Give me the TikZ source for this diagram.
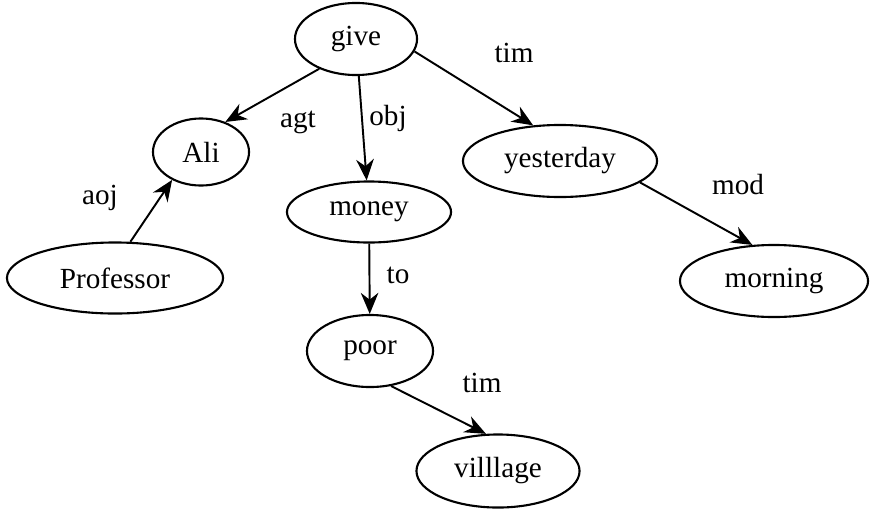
\documentclass[tikz,border=0pt]{standalone}
\usepackage{fontspec}
\setmainfont{Liberation Serif}
\usetikzlibrary{shapes.geometric,arrows.meta}

\tikzset{
  word/.style={draw, ellipse, line width=0.6pt, inner sep=0pt},
  rel/.style={-{Stealth[length=6pt,width=5pt]}, line width=0.55pt},
  lbl/.style={inner sep=0pt}
}

\begin{document}
\begin{tikzpicture}[x=0.01cm, y=-0.01cm, font=\fontsize{8.3}{10}\selectfont]
\useasboundingbox (0,0) rectangle (871,509);
% words
\node [word, minimum width=1.22cm, minimum height=0.72cm] (give) at (356,39) {give};
\node [word, minimum width=0.96cm, minimum height=0.67cm] (Ali) at (201,152) {Ali};
\node [word, minimum width=2.16cm, minimum height=0.71cm] (Professor) at (115,278) {Professor};
\node [word, minimum width=1.64cm, minimum height=0.61cm] (money) at (369,212) {money};
\node [word, minimum width=1.26cm, minimum height=0.72cm] (poor) at (370,351) {poor};
\node [word, minimum width=1.63cm, minimum height=0.73cm] (villlage) at (498,471) {villlage};
\node [word, minimum width=1.94cm, minimum height=0.72cm] (yesterday) at (560,161) {yesterday};
\node [word, minimum width=1.88cm, minimum height=0.72cm] (morning) at (774,281) {morning};
% relations
\draw [rel] (give.219) -- (Ali.51);
\draw [rel] (give) -- (money);
\draw [rel] (give.-12) -- (yesterday.127);
\draw [rel] (Professor.67) -- (Ali.224);
\draw [rel] (money) -- (poor);
\draw [rel] (poor.-59) -- (villlage.108);
\draw [rel] (yesterday.-15) -- (morning.121);
% labels
\node [lbl] (agt) at (298,122) {agt};
\node [lbl] (obj) at (388,118) {obj};
\node [lbl] (timtop) at (514,53) {tim};
\node [lbl] (aoj) at (100,198) {aoj};
\node [lbl] (to) at (398,275) {to};
\node [lbl] (timlow) at (482,383) {tim};
\node [lbl] (mod) at (738,185) {mod};
\end{tikzpicture}
\end{document}
